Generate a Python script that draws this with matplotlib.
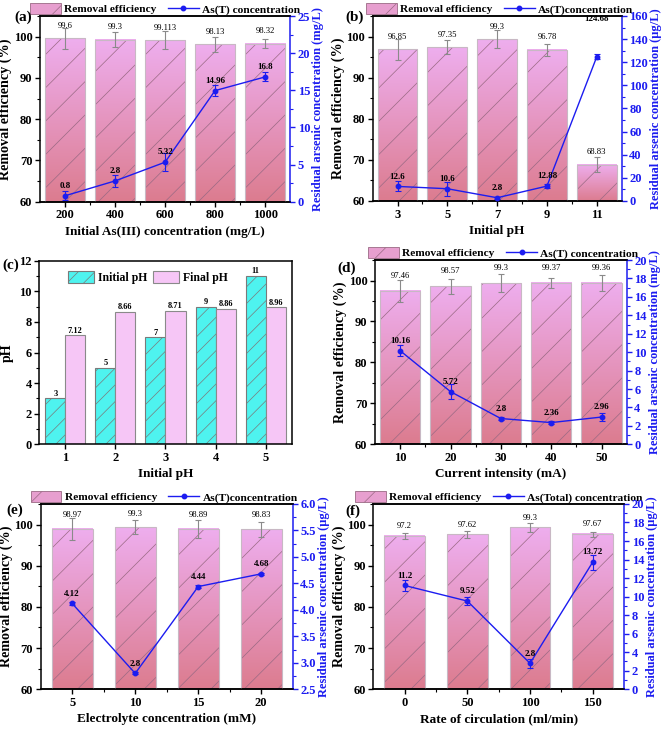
import numpy as np
import matplotlib.pyplot as plt
from matplotlib.colors import to_rgb
from matplotlib.patches import Patch
from matplotlib.lines import Line2D
from matplotlib.ticker import AutoMinorLocator, MultipleLocator, FormatStrFormatter

plt.rcParams['font.family'] = ['Liberation Serif', 'DejaVu Serif']
plt.rcParams['font.weight'] = 'bold'
plt.rcParams['axes.labelweight'] = 'bold'
plt.rcParams['hatch.linewidth'] = 0.5

BLUE = '#1c1cf0'
TOP_C = '#eeaeee'
BOT_C = '#dc7c8f'
HATCH_C = '#9a6a84'

# (a) initial As(III) concentration
a_cats = ['200', '400', '600', '800', '1000']
a_eff = [99.6, 99.3, 99.113, 98.13, 98.32]
a_eff_err = [2.6, 1.8, 2.2, 1.9, 1.1]
a_conc = [0.8, 2.8, 5.32, 14.96, 16.8]
a_conc_err = [0.6, 0.8, 1.25, 0.7, 0.6]

# (b) initial pH
b_cats = ['3', '5', '7', '9', '11']
b_eff = [96.85, 97.35, 99.3, 96.78, 68.83]
b_eff_err = [2.5, 1.7, 2.2, 1.5, 1.8]
b_conc = [12.6, 10.6, 2.8, 12.88, 124.68]
b_conc_err = [4.3, 6.0, 1.0, 2.0, 2.0]

# (c) initial vs final pH
c_cats = [1, 2, 3, 4, 5]
c_init = [3, 5, 7, 9, 11]
c_final = [7.12, 8.66, 8.71, 8.86, 8.96]

# (d) current intensity
d_cats = ['10', '20', '30', '40', '50']
d_eff = [97.46, 98.57, 99.3, 99.37, 99.36]
d_eff_err = [2.6, 1.9, 2.2, 1.3, 1.9]
d_conc = [10.16, 5.72, 2.8, 2.36, 2.96]
d_conc_err = [0.6, 0.8, 0.2, 0.2, 0.4]

# (e) electrolyte concentration
e_cats = ['5', '10', '15', '20']
e_eff = [98.97, 99.3, 98.89, 98.83]
e_eff_err = [2.7, 1.7, 2.1, 1.8]
e_conc = [4.12, 2.8, 4.44, 4.68]
e_conc_err = [0.02, 0.02, 0.02, 0.02]

# (f) rate of circulation
f_cats = ['0', '50', '100', '150']
f_eff = [97.2, 97.62, 99.3, 97.67]
f_eff_err = [0.8, 0.8, 1.0, 0.6]
f_conc = [11.2, 9.52, 2.8, 13.72]
f_conc_err = [0.6, 0.4, 0.5, 0.8]


def style_axis(ax):
    for s in ax.spines.values():
        s.set_linewidth(1.1)
    ax.tick_params(direction='out', length=3.5, width=1, labelsize=9, pad=2)
    ax.tick_params(which='minor', direction='out', length=2, width=0.8)


def bar_line(ax, cats, eff, eff_err, conc, conc_err, xlabel, rlabel, rlim, rstep,
             line_name, w, lab_off, leg_x, rfmt=None, conc_offs=None):
    n = len(cats)
    x = np.arange(n)
    t = np.linspace(0, 1, 100)[:, None, None]
    for xi, v in zip(x, eff):
        grad = np.array(to_rgb(BOT_C)) * (1 - t) + np.array(to_rgb(TOP_C)) * t
        ax.imshow(grad, extent=[xi - w / 2, xi + w / 2, 60, v], origin='lower',
                  aspect='auto', zorder=1)
    ax.bar(x, eff, w, facecolor='none', edgecolor=HATCH_C, lw=0, hatch='/', zorder=2)
    ax.bar(x, eff, w, facecolor='none', edgecolor='#c8b8c4', lw=0.8, zorder=3)
    ax.errorbar(x, eff, yerr=eff_err, fmt='none', ecolor='#8a8a8a', elinewidth=0.8,
                capsize=2.5, capthick=0.8, zorder=4)
    for xi, v in zip(x, eff):
        ax.annotate(f'{v:g}', (xi, v), xytext=(0, lab_off), textcoords='offset points',
                    ha='center', va='center', fontsize=6.2, fontweight='normal', zorder=6)
    ax.set_xlim(-0.5, n - 0.5)
    ax.set_ylim(60, 105)
    ax.set_yticks([60, 70, 80, 90, 100])
    ax.yaxis.set_minor_locator(AutoMinorLocator(2))
    ax.set_xticks(x)
    ax.set_xticklabels(cats)
    ax.set_xticks(x[:-1] + 0.5, minor=True)
    ax.set_xlabel(xlabel, fontsize=9.5, labelpad=3)
    ax.set_ylabel('Removal efficiency (%)', fontsize=10.2, labelpad=1)
    ax.spines['right'].set_visible(False)
    style_axis(ax)

    ax2 = ax.twinx()
    ax2.errorbar(x, conc, yerr=conc_err, color=BLUE, marker='o', ms=3.2, lw=1,
                 elinewidth=0.8, capsize=2, capthick=0.8, zorder=5)
    if conc_offs is None:
        conc_offs = [7] * n
    for xi, v, off in zip(x, conc, conc_offs):
        ax2.annotate(f'{v:g}', (xi, v), xytext=(0, off), textcoords='offset points',
                     ha='center', va='center', fontsize=6.5, zorder=6)
    ax2.set_ylim(*rlim)
    ax2.yaxis.set_major_locator(MultipleLocator(rstep))
    ax2.yaxis.set_minor_locator(AutoMinorLocator(2))
    if rfmt:
        ax2.yaxis.set_major_formatter(FormatStrFormatter(rfmt))
    ax2.set_ylabel(rlabel, color=BLUE, fontsize=9, labelpad=1.5)
    style_axis(ax2)
    ax2.spines['right'].set_color(BLUE)
    ax2.tick_params(axis='y', which='both', colors=BLUE)
    ax2.spines['left'].set_visible(False)

    handles = [Patch(facecolor='#e79fcf', edgecolor=HATCH_C, lw=0.6, hatch='/'),
               Line2D([], [], color=BLUE, marker='o', ms=3.2, lw=1)]
    ax.legend(handles, ['Removal efficiency', line_name], loc='lower center',
              bbox_to_anchor=(leg_x, 0.995), ncol=2, frameon=False, fontsize=8.2,
              handlelength=2.7, handleheight=1.1, columnspacing=1.0,
              borderaxespad=0.1, borderpad=0.1, handletextpad=0.3)
    return ax2


def main():
    fig = plt.figure(figsize=(6.65, 7.29), dpi=100)
    ax_a = fig.add_axes([0.0602, 0.7233, 0.3760, 0.2547])
    ax_b = fig.add_axes([0.5604, 0.7243, 0.3744, 0.2538])
    ax_c = fig.add_axes([0.0591, 0.3905, 0.3795, 0.2519])
    ax_d = fig.add_axes([0.5639, 0.3905, 0.3785, 0.2528])
    ax_e = fig.add_axes([0.0612, 0.0545, 0.3790, 0.2542])
    ax_f = fig.add_axes([0.5614, 0.0545, 0.3770, 0.2542])

    bar_line(ax_a, a_cats, a_eff, a_eff_err, a_conc, a_conc_err,
             'Initial As(III) concentration (mg/L)',
             'Residual arsenic concentration (mg/L)', (0, 25), 5,
             'As(T) concentration', 0.8, 9, 0.5)
    bar_line(ax_b, b_cats, b_eff, b_eff_err, b_conc, b_conc_err,
             'Initial pH', 'Residual arsenic concentration (μg/L)', (0, 160), 20,
             'As(T)concentration', 0.8, 9, 0.51, conc_offs=[7, 7, 7, 7, 27])
    bar_line(ax_d, d_cats, d_eff, d_eff_err, d_conc, d_conc_err,
             'Current intensity (mA)', 'Residual arsenic concentration (mg/L)',
             (0, 20), 2, 'As(T) concentration', 0.8, 11, 0.51)
    bar_line(ax_e, e_cats, e_eff, e_eff_err, e_conc, e_conc_err,
             'Electrolyte concentration (mM)', 'Residual arsenic concentration (μg/L)',
             (2.5, 6.0), 0.5, 'As(T)concentration', 0.65, 10, 0.49, rfmt='%.1f')
    bar_line(ax_f, f_cats, f_eff, f_eff_err, f_conc, f_conc_err,
             'Rate of circulation (ml/min)', 'Residual arsenic concentration (μg/L)',
             (0, 20), 2, 'As(Total) concentration', 0.65, 7, 0.5)

    # (c) initial vs final pH
    xc = np.array(c_cats)
    ax_c.bar(xc - 0.2, c_init, 0.4, facecolor='#4ef3ef', edgecolor='#7a7a7a',
             lw=0.8, hatch='//', zorder=2)
    ax_c.bar(xc + 0.2, c_final, 0.4, facecolor='#f6c6f6', edgecolor='#8a8a8a',
             lw=0.8, zorder=2)
    for xi, v in zip(xc - 0.2, c_init):
        ax_c.annotate(f'{v:g}', (xi, v), xytext=(0, 0.5), textcoords='offset points',
                      ha='center', va='bottom', fontsize=6)
    for xi, v in zip(xc + 0.2, c_final):
        ax_c.annotate(f'{v:g}', (xi, v), xytext=(0, 0.5), textcoords='offset points',
                      ha='center', va='bottom', fontsize=6)
    ax_c.set_xlim(0.48, 5.52)
    ax_c.set_ylim(0, 12)
    ax_c.set_yticks(range(0, 13, 2))
    ax_c.yaxis.set_minor_locator(AutoMinorLocator(2))
    ax_c.set_xticks(c_cats)
    ax_c.set_xlabel('Initial pH', fontsize=9.5, labelpad=3)
    ax_c.set_ylabel('pH', fontsize=10, labelpad=4)
    style_axis(ax_c)
    hc = [Patch(facecolor='#4ef3ef', edgecolor='#7a7a7a', lw=0.8, hatch='//'),
          Patch(facecolor='#f6c6f6', edgecolor='#8a8a8a', lw=0.8)]
    ax_c.legend(hc, ['Initial pH', 'Final pH'], loc='upper center', ncol=2,
                frameon=False, fontsize=8.5, handlelength=2.2, handleheight=1.1,
                columnspacing=0.5, bbox_to_anchor=(0.43, 1.0), handletextpad=0.3)

    for lab, x, y in [('(a)', 0.022, 0.976), ('(b)', 0.52, 0.976),
                      ('(c)', 0.004, 0.636), ('(d)', 0.508, 0.632),
                      ('(e)', 0.010, 0.300), ('(f)', 0.520, 0.299)]:
        fig.text(x, y, lab, fontsize=11, fontweight='bold', va='center')

    fig.savefig('out.png', dpi=100)


if __name__ == "__main__":
    main()
